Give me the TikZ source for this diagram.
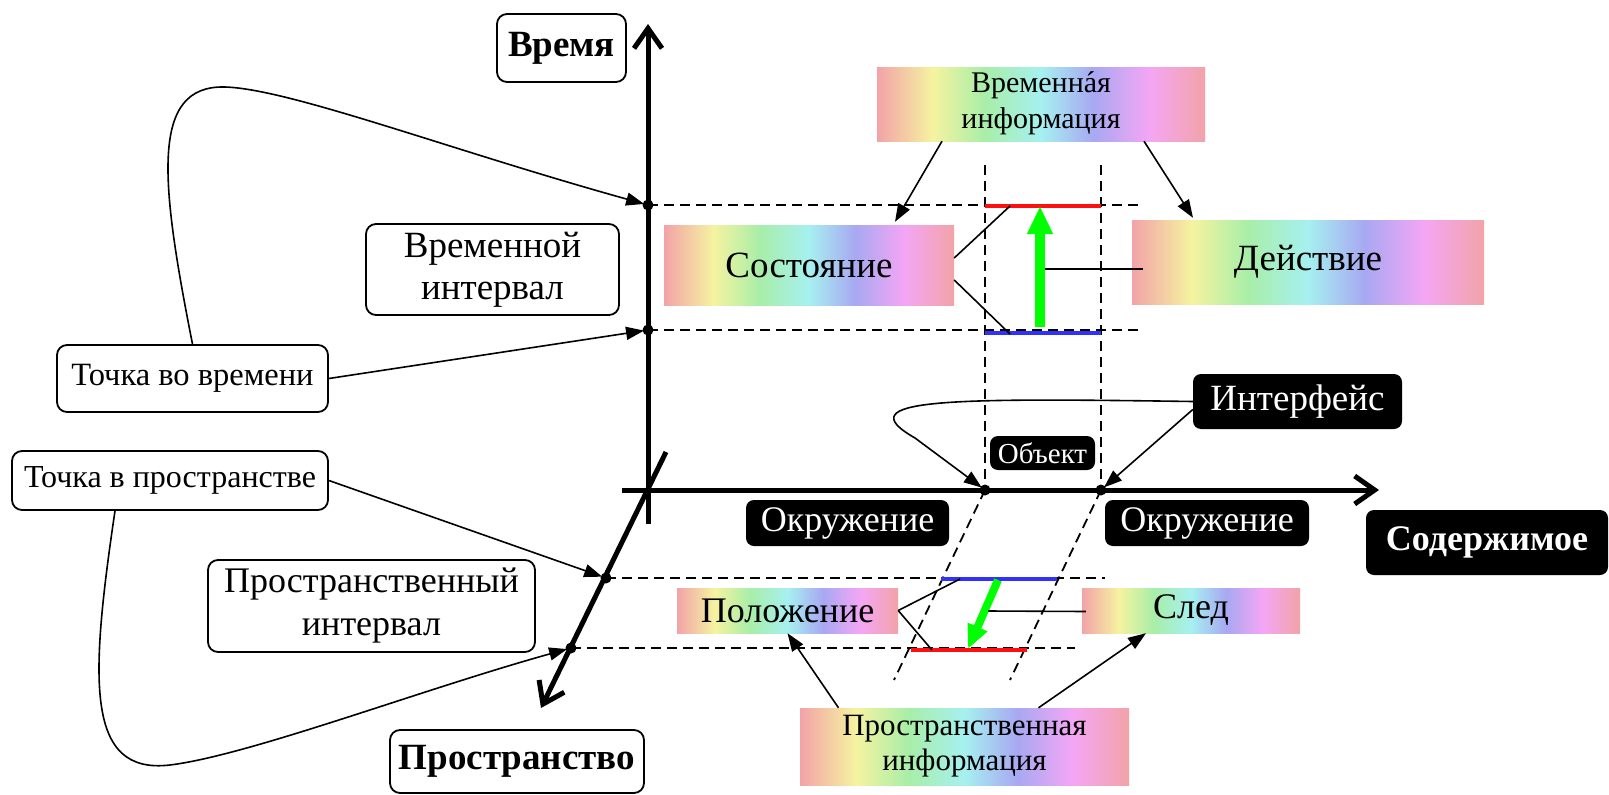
\documentclass[tikz,border=0pt]{standalone}
\usepackage{fontspec}
\setmainfont{Liberation Serif}
\usetikzlibrary{arrows.meta}
\definecolor{rA}{HTML}{F2A3A8}
\definecolor{rB}{HTML}{F5F3A0}
\definecolor{rC}{HTML}{A8EEA8}
\definecolor{rD}{HTML}{A6F0F0}
\definecolor{rE}{HTML}{A8A8F2}
\definecolor{rF}{HTML}{F4A6F4}
\definecolor{gArrow}{HTML}{00FF00}
\definecolor{bLine}{HTML}{3030FF}
\definecolor{rLine}{HTML}{FF1010}
\pgfdeclarehorizontalshading{rainbow}{100bp}{color(0bp)=(rA); color(25bp)=(rA); color(33.5bp)=(rB); color(41.5bp)=(rC); color(50bp)=(rD); color(58bp)=(rE); color(66.5bp)=(rF); color(75bp)=(rA); color(100bp)=(rA)}
\newcommand{\fsz}[2]{\fontsize{#1}{#2}\selectfont}
\newcommand{\accA}{\ooalign{а\cr\hidewidth\char"00B4\hidewidth\cr}}
\tikzset{
  wbox/.style={draw, line width=1.8pt, rounded corners=10pt, fill=white, inner sep=0pt, align=center},
  bbox/.style={fill=black, text=white, rounded corners=8pt, inner sep=0pt, align=center},
  rbox/.style={shading=rainbow, inner sep=0pt, align=center},
  axisline/.style={line width=5pt, -{Straight Barb[length=20pt,width=28pt]}},
  conn/.style={line width=1.6pt, -{Triangle[length=18pt,width=13pt]}},
  plainline/.style={line width=1.6pt},
  dsh/.style={line width=1.8pt, dash pattern=on 10pt off 6pt},
  dot/.style={fill=black}
}
\begin{document}
\begin{tikzpicture}[x=1pt,y=-1pt]
\useasboundingbox (0,0) rectangle (1609,795);
% coordinates
\coordinate (axV0) at (648,524);
\coordinate (axV1) at (648,24);
\coordinate (axH0) at (622,490);
\coordinate (axH1) at (1379,490);
\coordinate (axD0) at (666,452);
\coordinate (axD1) at (541,708);
\coordinate (T1) at (648,205);
\coordinate (T2) at (648,330);
\coordinate (S1) at (606,578);
\coordinate (S2) at (571,648);
\coordinate (O1) at (985,490);
\coordinate (O2) at (1101,490);
% dashed guides
\draw[dsh] (T1) -- (1144,205);
\draw[dsh] (T2) -- (1144,330);
\draw[dsh] (985,165) -- (O1);
\draw[dsh] (1101,165) -- (O2);
\draw[dsh] (O1) -- (894,680);
\draw[dsh] (O2) -- (1010,680);
\draw[dsh] (S1) -- (1105,578);
\draw[dsh] (S2) -- (1075,648);
% coloured intervals
\coordinate (rT0) at (985,206); \coordinate (rT1) at (1101,206);
\coordinate (bT0) at (985,333); \coordinate (bT1) at (1101,333);
\coordinate (bS0) at (941,579); \coordinate (bS1) at (1057,579);
\coordinate (rS0) at (911,650); \coordinate (rS1) at (1027,650);
\draw[rLine, line width=4.5pt] (rT0) -- (rT1);
\draw[bLine, line width=4.5pt] (bT0) -- (bT1);
\draw[bLine, line width=4.5pt] (bS0) -- (bS1);
\draw[rLine, line width=4.5pt] (rS0) -- (rS1);
% green arrows
\coordinate (gT0) at (1040,327); \coordinate (gT1) at (1040,206);
\coordinate (gS0) at (998,580); \coordinate (gS1) at (968,649);
\draw[gArrow, line width=10pt, -{Triangle[length=28pt,width=24pt]}] (gT0) -- (gT1);
\draw[gArrow, line width=8pt, -{Triangle[length=24pt,width=20pt]}] (gS0) -- (gS1);
% axes
\draw[axisline] (axV0) -- (axV1);
\draw[axisline] (axH0) -- (axH1);
\draw[axisline] (axD0) -- (axD1);
\foreach \p in {T1,T2,S1,S2,O1,O2} \fill[dot] (\p) circle (5.5pt);
% white boxes
\node[wbox, minimum width=129pt, minimum height=68pt, font=\fsz{37}{42}\bfseries] (vremya) at (561.5,48) {Время};
\node[wbox, minimum width=253pt, minimum height=91pt, font=\fsz{37}{42}] (vint) at (492.5,269.5) {Временной\\интервал};
\node[wbox, minimum width=271pt, minimum height=67pt, font=\fsz{32.5}{38}] (tvr) at (192.5,378.5) {Точка во времени};
\node[wbox, minimum width=316pt, minimum height=59pt, font=\fsz{32}{38}] (tpr) at (170,480.5) {Точка в пространстве};
\node[wbox, minimum width=327pt, minimum height=92pt, font=\fsz{36}{43}] (pint) at (371.5,606) {Пространственный\\интервал};
\node[wbox, minimum width=254pt, minimum height=63pt, font=\fsz{37}{42}\bfseries] (prostr) at (517,761.5) {Пространство};
% black boxes
\node[bbox, minimum width=209pt, minimum height=55pt, font=\fsz{37}{42}] (interf) at (1297.5,401.5) {Интерфейс};
\node[bbox, minimum width=105pt, minimum height=34pt, font=\fsz{29}{34}] (obj) at (1042.5,453) {Объект};
\node[bbox, minimum width=203pt, minimum height=46pt, font=\fsz{36}{42}] (okrL) at (847.5,523) {Окружение};
\node[bbox, minimum width=204pt, minimum height=46pt, font=\fsz{36}{42}] (okrR) at (1207,523) {Окружение};
\node[bbox, minimum width=242pt, minimum height=65pt, font=\fsz{36}{42}\bfseries] (soder) at (1487,542.5) {Содержимое};
% rainbow boxes
\node[rbox, minimum width=328pt, minimum height=74pt, font=\fsz{30}{36}] (vinfo) at (1041,104) {Временн\accA я\\информация};
\node[rbox, minimum width=290pt, minimum height=80pt, font=\fsz{37}{42}] (sost) at (809,265) {Состояние};
\node[rbox, minimum width=352pt, minimum height=84pt, font=\fsz{37}{42}] (deist) at (1308,262) {Действие};
\node[rbox, minimum width=221pt, minimum height=45pt, font=\fsz{36}{42}] (polo) at (787.5,610.5) {Положение};
\node[rbox, minimum width=218pt, minimum height=45pt, font=\fsz{36}{42}] (sled) at (1191,610.5) {След};
\node[rbox, minimum width=329pt, minimum height=77pt, font=\fsz{31}{35}] (pinfo) at (964.5,746.5) {Пространственная\\информация};
% connectors
\draw[conn, shorten >=4pt] (tvr.north) .. controls (160,180) and (150,85) .. (225,87) .. controls (290,89) and (450,150) .. (T1);
\draw[conn, shorten >=4pt] (tvr.east) -- (T2);
\draw[conn, shorten >=4pt] (tpr.east) -- (S1);
\draw[conn, shorten >=4pt] ([xshift=-55pt]tpr.south) .. controls (90,680) and (85,775) .. (170,765) .. controls (250,755) and (420,690) .. (S2);
\draw[conn] ([xshift=-99pt]vinfo.south) -- ([xshift=86pt,yshift=3pt]sost.north);
\draw[conn] ([xshift=103pt]vinfo.south) -- ([xshift=-115pt,yshift=2pt]deist.north);
\draw[plainline] ([yshift=7pt]sost.east) -- (1010,206);
\draw[plainline] ([yshift=-15pt]sost.east) -- (1010,334);
\draw[plainline] ([xshift=11pt,yshift=-7pt]deist.west) -- (1045,269);
\draw[plainline] (polo.east) -- (960,579);
\draw[plainline] (polo.east) -- (932,650);
\draw[plainline] ([xshift=4pt,yshift=-1pt]sled.west) -- (988,611);
\draw[conn] ([xshift=-126pt]pinfo.north) -- (polo.south);
\draw[conn] ([xshift=74pt]pinfo.north) -- ([xshift=-45pt]sled.south);
\draw[conn, shorten >=4pt] (interf.west) .. controls (950,398) and (845,398) .. (915,438) -- (O1);
\draw[conn, shorten >=4pt] ([yshift=-8pt]interf.west) -- (O2);
\end{tikzpicture}
\end{document}
